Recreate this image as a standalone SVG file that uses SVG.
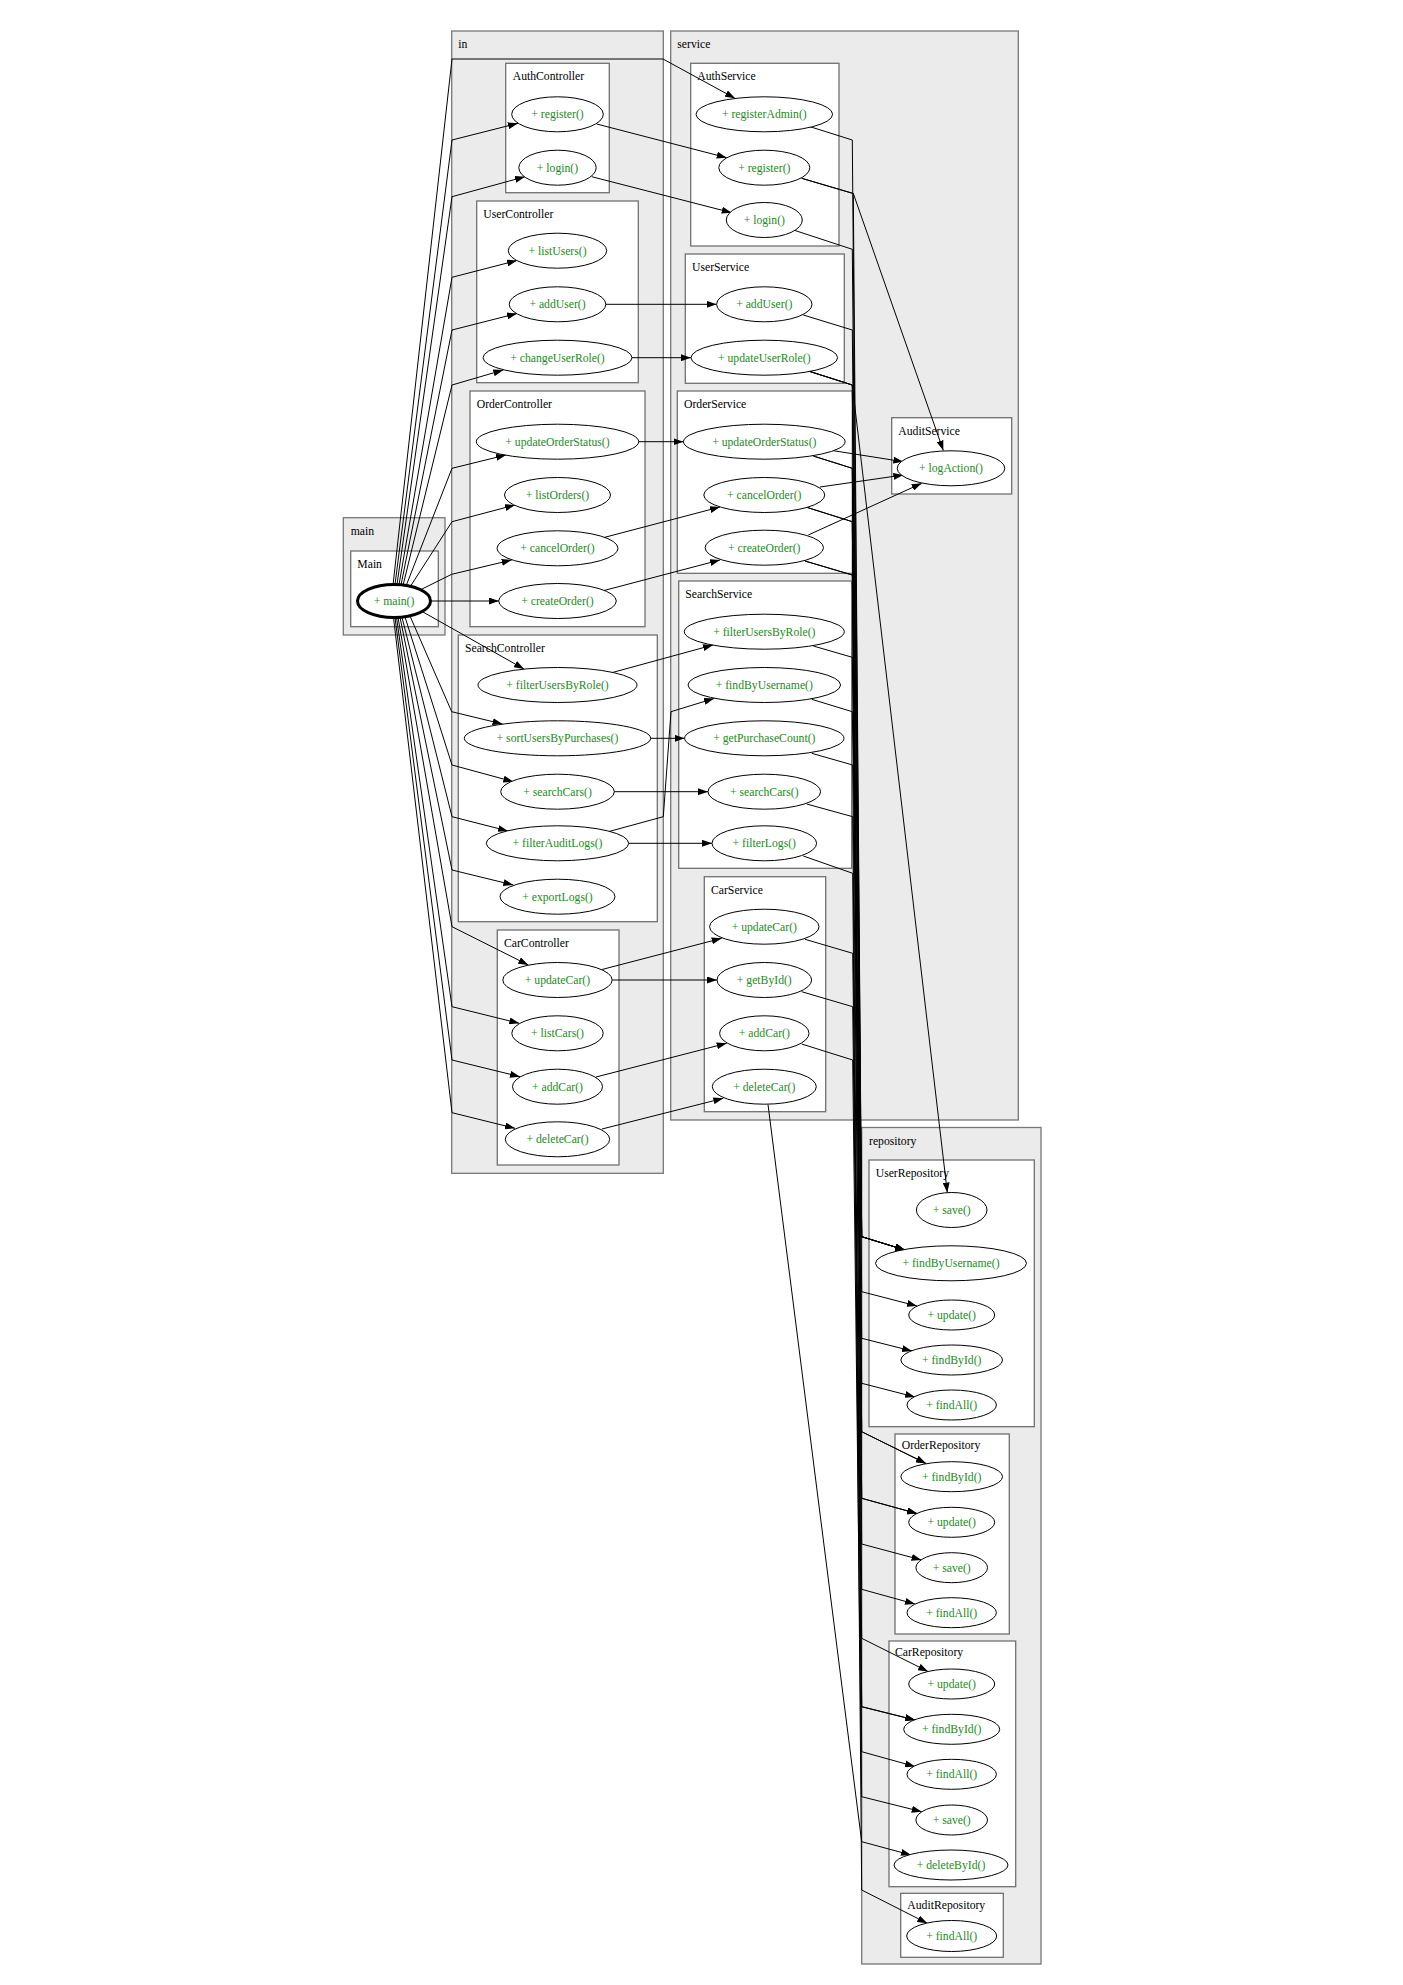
<svg xmlns="http://www.w3.org/2000/svg" width="1403" height="1985" viewBox="0 0 1403 1985">
<style>
.cl{fill:#ebebeb;stroke:#777;stroke-width:1.3}
.bx{fill:#fff;stroke:#707070;stroke-width:1.3}
.lb{font-family:"Liberation Serif","Times New Roman",serif;font-size:11.7px;fill:#000}
.m ellipse{fill:#fff;stroke:#000;stroke-width:1}
.m text{font-family:"Liberation Serif","Times New Roman",serif;font-size:11.7px;fill:#228b22;text-anchor:middle}
.e{fill:none;stroke:#000;stroke-width:1;marker-end:url(#ah)}
.e2{fill:none;stroke:#000;stroke-width:1}
</style>
<defs>
<marker id="ah" markerUnits="userSpaceOnUse" markerWidth="10" markerHeight="7" refX="10" refY="3.5" orient="auto">
<path d="M0,0 L10,3.5 L0,7 z" fill="#000"/>
</marker>
</defs>
<rect width="1403" height="1985" fill="#fff"/>
<g id="clusters">
<g id="cluster_in"><rect class="cl" x="451.7" y="31" width="211.6" height="1142.3"/><text class="lb" x="458.3" y="48">in</text></g>
<g id="cluster_service"><rect class="cl" x="670.7" y="31" width="347.6" height="1089"/><text class="lb" x="677.3" y="48">service</text></g>
<g id="cluster_main"><rect class="cl" x="343.3" y="517.7" width="101.7" height="117.3"/><text class="lb" x="350.7" y="535">main</text></g>
<g id="cluster_repository"><rect class="cl" x="861.7" y="1127.5" width="179.3" height="836.5"/><text class="lb" x="869" y="1144.5">repository</text></g>
<g id="AuthController"><rect class="bx" x="505.7" y="63.3" width="103.6" height="129.4"/><text class="lb" x="512.7" y="80">AuthController</text></g>
<g id="UserController"><rect class="bx" x="476.7" y="201" width="161.6" height="181.7"/><text class="lb" x="483.3" y="218">UserController</text></g>
<g id="OrderController"><rect class="bx" x="470" y="391" width="175" height="235.7"/><text class="lb" x="476.7" y="408">OrderController</text></g>
<g id="SearchController"><rect class="bx" x="458.3" y="635" width="199" height="286.7"/><text class="lb" x="465" y="652">SearchController</text></g>
<g id="CarController"><rect class="bx" x="497.3" y="930" width="121.7" height="235"/><text class="lb" x="504" y="947">CarController</text></g>
<g id="Main"><rect class="bx" x="350.7" y="551" width="87.6" height="75.7"/><text class="lb" x="357.3" y="568">Main</text></g>
<g id="AuthService"><rect class="bx" x="690.7" y="63.3" width="148.3" height="182.7"/><text class="lb" x="697.3" y="80">AuthService</text></g>
<g id="UserService"><rect class="bx" x="685.3" y="254" width="159" height="129.3"/><text class="lb" x="692" y="271">UserService</text></g>
<g id="OrderService"><rect class="bx" x="677.3" y="391" width="175" height="182.3"/><text class="lb" x="684" y="408">OrderService</text></g>
<g id="SearchService"><rect class="bx" x="678.7" y="581" width="173" height="287.3"/><text class="lb" x="685.3" y="598">SearchService</text></g>
<g id="CarService"><rect class="bx" x="704.3" y="876.7" width="121.4" height="235"/><text class="lb" x="711" y="893.7">CarService</text></g>
<g id="AuditService"><rect class="bx" x="891.7" y="417.7" width="120" height="76.3"/><text class="lb" x="898.3" y="434.7">AuditService</text></g>
<g id="UserRepository"><rect class="bx" x="869" y="1160" width="165.3" height="266.7"/><text class="lb" x="875.7" y="1177">UserRepository</text></g>
<g id="OrderRepository"><rect class="bx" x="895" y="1434" width="114.3" height="200"/><text class="lb" x="901.7" y="1449">OrderRepository</text></g>
<g id="CarRepository"><rect class="bx" x="889" y="1641" width="126.7" height="245.7"/><text class="lb" x="895" y="1656">CarRepository</text></g>
<g id="AuditRepository"><rect class="bx" x="900.7" y="1893.3" width="102.6" height="64"/><text class="lb" x="907.3" y="1909">AuditRepository</text></g>
</g>
<g id="edges">
<path class="e" d="M393,585 L452,59 L663,59 L735,98.3"/>
<path class="e" d="M395,584.5 L452,140 L518,123.3"/>
<path class="e" d="M397,584.5 L452,196.7 L525,176.7"/>
<path class="e" d="M399,584.7 L452,277.3 L517,260.5"/>
<path class="e" d="M401,585 L452,330 L517,313.5"/>
<path class="e" d="M403,585.5 L452,385 L503.3,370"/>
<path class="e" d="M406,586 L452,468.3 L506,455"/>
<path class="e" d="M410,587 L452,521.7 L515,505"/>
<path class="e" d="M420,590 L451.7,574.3 L511.7,560"/>
<path class="e" d="M431.5,601 L498.9,601"/>
<path class="e" d="M423,612 L524,669"/>
<path class="e" d="M410,616 L451.7,711.7 L502.5,724"/>
<path class="e" d="M405,617 L452,765 L513.3,781.7"/>
<path class="e" d="M402,617.3 L452,816.7 L508,831"/>
<path class="e" d="M400,617.4 L452,870 L513.3,885"/>
<path class="e" d="M398,617.5 L452,926.7 L528.3,965"/>
<path class="e" d="M396.5,617.5 L452,1006.7 L519.3,1023.3"/>
<path class="e" d="M395,617.5 L452,1060 L520,1076.7"/>
<path class="e" d="M393.5,617.5 L452,1112.7 L515,1128.3"/>
<path class="e" d="M596.7,124 L726.7,157.7"/>
<path class="e" d="M591.7,176.7 L731.7,212.7"/>
<path class="e" d="M606,304.3 L716.6,304.3"/>
<path class="e" d="M631.8,357.7 L691,357.7"/>
<path class="e" d="M638.9,441.7 L683.5,441.7"/>
<path class="e" d="M604,537.5 L720,507"/>
<path class="e" d="M604,590.5 L720,560"/>
<path class="e" d="M611.7,672.7 L713,645"/>
<path class="e" d="M650.5,738.3 L684.6,738.3"/>
<path class="e" d="M609,831.5 L663.3,816.7 L671,711.7 L714,698.5"/>
<path class="e" d="M614.1,791.7 L708,791.7"/>
<path class="e" d="M628.9,843.3 L712,843.3"/>
<path class="e" d="M602,969.5 L721.7,938.3"/>
<path class="e" d="M612.4,980 L717,980"/>
<path class="e" d="M596,1077 L726.7,1043.3"/>
<path class="e" d="M602,1129 L723.3,1098.3"/>
<path class="e" d="M833.3,450.7 L903.3,461.7"/>
<path class="e" d="M820,487 L903.3,475"/>
<path class="e" d="M808.3,535 L921.7,483.3"/>
<path class="e" d="M801.7,178.3 L853.3,193.5 L943.3,450.5"/>
<path class="e" d="M810,126.7 L852.3,140 L861.7,1236.7 L905,1250"/>
<path class="e" d="M801.7,178.3 L853.3,193.5 L861.7,1236.7 L905,1250"/>
<path class="e" d="M795,230.5 L852.3,249.3 L861.7,1236.7 L905,1250"/>
<path class="e" d="M803.3,315 L852.3,330 L861.7,1236.7 L905,1250"/>
<path class="e" d="M808.3,371 L852.3,385 L947.3,1192.5"/>
<path class="e" d="M808.3,371 L852.3,385 L861.7,1291.7 L917,1306"/>
<path class="e" d="M808.3,371 L852.3,385 L861.7,1338.3 L912,1351"/>
<path class="e" d="M813.3,646 L852.3,657.3 L861.7,1383.3 L915,1397"/>
<path class="e" d="M811.7,699.3 L852.3,711.7 L861.7,1236.7 L905,1250"/>
<path class="e" d="M813.3,456 L852.3,468.3 L861.7,1431.7 L926,1463.5"/>
<path class="e" d="M813.3,456 L852.3,468.3 L861.7,1498.3 L917,1513.5"/>
<path class="e" d="M806.7,507.3 L852.3,521.7 L861.7,1431.7 L926,1463.5"/>
<path class="e" d="M806.7,507.3 L852.3,521.7 L861.7,1498.3 L917,1513.5"/>
<path class="e" d="M805,561 L852.3,575 L861.7,1544 L921.5,1560"/>
<path class="e" d="M805,561 L852.3,575 L861.7,1706.7 L915,1720"/>
<path class="e" d="M811.7,753.3 L852.7,765 L861.7,1589.3 L915,1604"/>
<path class="e" d="M806.7,804 L852.7,816.7 L861.7,1751.7 L915,1766.5"/>
<path class="e" d="M803.3,856 L852.7,873.3 L861.7,1890 L927.3,1923.3"/>
<path class="e" d="M805,939.3 L852.7,953.3 L861.7,1638.3 L928,1671.5"/>
<path class="e" d="M801.7,991.7 L852.7,1006.7 L861.7,1706.7 L915,1720"/>
<path class="e" d="M801.7,1044 L852.7,1060 L861.7,1796.7 L921.7,1811.7"/>
<path class="e" d="M768,1104.5 L861.7,1841.7 L911,1855"/>
</g>
<g id="nodes">
<g id="main_main" class="m"><ellipse cx="394" cy="601" rx="36.5" ry="16.5" style="stroke-width:3"/><text x="394" y="605">+ main()</text></g>
<g id="ac_register" class="m"><ellipse cx="557.5" cy="114.3" rx="45.8" ry="17.5"/><text x="557.5" y="118.3">+ register()</text></g>
<g id="ac_login" class="m"><ellipse cx="557.5" cy="167.7" rx="38.7" ry="17.5"/><text x="557.5" y="171.7">+ login()</text></g>
<g id="uc_listUsers" class="m"><ellipse cx="557.5" cy="250.7" rx="49.2" ry="17.5"/><text x="557.5" y="254.7">+ listUsers()</text></g>
<g id="uc_addUser" class="m"><ellipse cx="557.5" cy="304.3" rx="48.3" ry="17.5"/><text x="557.5" y="308.3">+ addUser()</text></g>
<g id="uc_changeUserRole" class="m"><ellipse cx="557.5" cy="357.7" rx="74.5" ry="17.5"/><text x="557.5" y="361.7">+ changeUserRole()</text></g>
<g id="oc_updateOrderStatus" class="m"><ellipse cx="557.5" cy="441.7" rx="81.2" ry="17.5"/><text x="557.5" y="445.7">+ updateOrderStatus()</text></g>
<g id="oc_listOrders" class="m"><ellipse cx="557.5" cy="495" rx="53" ry="17.5"/><text x="557.5" y="499">+ listOrders()</text></g>
<g id="oc_cancelOrder" class="m"><ellipse cx="557.5" cy="548.3" rx="60.5" ry="17.5"/><text x="557.5" y="552.3">+ cancelOrder()</text></g>
<g id="oc_createOrder" class="m"><ellipse cx="557.5" cy="601" rx="58.8" ry="17.5"/><text x="557.5" y="605">+ createOrder()</text></g>
<g id="sc_filterUsersByRole" class="m"><ellipse cx="557.5" cy="685" rx="79.5" ry="17.5"/><text x="557.5" y="689">+ filterUsersByRole()</text></g>
<g id="sc_sortUsersByPurchases" class="m"><ellipse cx="557.5" cy="738.3" rx="93.2" ry="17.5"/><text x="557.5" y="742.3">+ sortUsersByPurchases()</text></g>
<g id="sc_searchCars" class="m"><ellipse cx="557.5" cy="791.7" rx="56.8" ry="17.5"/><text x="557.5" y="795.7">+ searchCars()</text></g>
<g id="sc_filterAuditLogs" class="m"><ellipse cx="557.5" cy="843.3" rx="71.2" ry="17.5"/><text x="557.5" y="847.3">+ filterAuditLogs()</text></g>
<g id="sc_exportLogs" class="m"><ellipse cx="557.5" cy="896.7" rx="57.5" ry="17.5"/><text x="557.5" y="900.7">+ exportLogs()</text></g>
<g id="cc_updateCar" class="m"><ellipse cx="557.5" cy="980" rx="54.7" ry="17.5"/><text x="557.5" y="984">+ updateCar()</text></g>
<g id="cc_listCars" class="m"><ellipse cx="557.5" cy="1033.3" rx="45.7" ry="17.5"/><text x="557.5" y="1037.3">+ listCars()</text></g>
<g id="cc_addCar" class="m"><ellipse cx="557.5" cy="1086.7" rx="45" ry="17.5"/><text x="557.5" y="1090.7">+ addCar()</text></g>
<g id="cc_deleteCar" class="m"><ellipse cx="557.5" cy="1139.3" rx="52.2" ry="17.5"/><text x="557.5" y="1143.3">+ deleteCar()</text></g>
<g id="as_registerAdmin" class="m"><ellipse cx="764.3" cy="114.3" rx="68.3" ry="17.5"/><text x="764.3" y="118.3">+ registerAdmin()</text></g>
<g id="as_register" class="m"><ellipse cx="764.3" cy="167.7" rx="45.5" ry="17.5"/><text x="764.3" y="171.7">+ register()</text></g>
<g id="as_login" class="m"><ellipse cx="764.3" cy="220" rx="38" ry="17.5"/><text x="764.3" y="224">+ login()</text></g>
<g id="us_addUser" class="m"><ellipse cx="764.3" cy="304.3" rx="47.7" ry="17.5"/><text x="764.3" y="308.3">+ addUser()</text></g>
<g id="us_updateUserRole" class="m"><ellipse cx="764.3" cy="357.7" rx="73.3" ry="17.5"/><text x="764.3" y="361.7">+ updateUserRole()</text></g>
<g id="os_updateOrderStatus" class="m"><ellipse cx="764.3" cy="441.7" rx="80.8" ry="17.5"/><text x="764.3" y="445.7">+ updateOrderStatus()</text></g>
<g id="os_cancelOrder" class="m"><ellipse cx="764.3" cy="495" rx="60.5" ry="17.5"/><text x="764.3" y="499">+ cancelOrder()</text></g>
<g id="os_createOrder" class="m"><ellipse cx="764.3" cy="547.7" rx="59.2" ry="17.5"/><text x="764.3" y="551.7">+ createOrder()</text></g>
<g id="ss_filterUsersByRole" class="m"><ellipse cx="764.3" cy="631.7" rx="80" ry="17.5"/><text x="764.3" y="635.7">+ filterUsersByRole()</text></g>
<g id="ss_findByUsername" class="m"><ellipse cx="764.3" cy="685" rx="76.3" ry="17.5"/><text x="764.3" y="689">+ findByUsername()</text></g>
<g id="ss_getPurchaseCount" class="m"><ellipse cx="764.3" cy="738.3" rx="79.7" ry="17.5"/><text x="764.3" y="742.3">+ getPurchaseCount()</text></g>
<g id="ss_searchCars" class="m"><ellipse cx="764.3" cy="791.7" rx="56.3" ry="17.5"/><text x="764.3" y="795.7">+ searchCars()</text></g>
<g id="ss_filterLogs" class="m"><ellipse cx="764.3" cy="843.3" rx="52.3" ry="17.5"/><text x="764.3" y="847.3">+ filterLogs()</text></g>
<g id="cs_updateCar" class="m"><ellipse cx="764.3" cy="926.7" rx="54.7" ry="17.5"/><text x="764.3" y="930.7">+ updateCar()</text></g>
<g id="cs_getById" class="m"><ellipse cx="764.3" cy="980" rx="47.3" ry="17.5"/><text x="764.3" y="984">+ getById()</text></g>
<g id="cs_addCar" class="m"><ellipse cx="764.3" cy="1033.3" rx="44.7" ry="17.5"/><text x="764.3" y="1037.3">+ addCar()</text></g>
<g id="cs_deleteCar" class="m"><ellipse cx="764.3" cy="1086.7" rx="52" ry="17.5"/><text x="764.3" y="1090.7">+ deleteCar()</text></g>
<g id="au_logAction" class="m"><ellipse cx="951" cy="468.3" rx="53.8" ry="17.5"/><text x="951" y="472.3">+ logAction()</text></g>
<g id="ur_save" class="m"><ellipse cx="951.7" cy="1210" rx="35.3" ry="17.5"/><text x="951.7" y="1214">+ save()</text></g>
<g id="ur_findByUsername" class="m"><ellipse cx="951" cy="1263.3" rx="75.5" ry="17.5"/><text x="951" y="1267.3">+ findByUsername()</text></g>
<g id="ur_update" class="m"><ellipse cx="951.7" cy="1315" rx="43" ry="15"/><text x="951.7" y="1319">+ update()</text></g>
<g id="ur_findById" class="m"><ellipse cx="951.7" cy="1360" rx="50.8" ry="15"/><text x="951.7" y="1364">+ findById()</text></g>
<g id="ur_findAll" class="m"><ellipse cx="951.7" cy="1405" rx="44.7" ry="15"/><text x="951.7" y="1409">+ findAll()</text></g>
<g id="or_findById" class="m"><ellipse cx="951.7" cy="1476.7" rx="50.8" ry="15"/><text x="951.7" y="1480.7">+ findById()</text></g>
<g id="or_update" class="m"><ellipse cx="951.7" cy="1522.3" rx="43" ry="15"/><text x="951.7" y="1526.3">+ update()</text></g>
<g id="or_save" class="m"><ellipse cx="951.7" cy="1567.7" rx="35.8" ry="15"/><text x="951.7" y="1571.7">+ save()</text></g>
<g id="or_findAll" class="m"><ellipse cx="951.7" cy="1612.7" rx="44.7" ry="15"/><text x="951.7" y="1616.7">+ findAll()</text></g>
<g id="cr_update" class="m"><ellipse cx="951.7" cy="1684" rx="43" ry="15"/><text x="951.7" y="1688">+ update()</text></g>
<g id="cr_findById" class="m"><ellipse cx="951.7" cy="1729.3" rx="48" ry="15"/><text x="951.7" y="1733.3">+ findById()</text></g>
<g id="cr_findAll" class="m"><ellipse cx="951.7" cy="1774.3" rx="44.7" ry="15"/><text x="951.7" y="1778.3">+ findAll()</text></g>
<g id="cr_save" class="m"><ellipse cx="951.7" cy="1820" rx="35.8" ry="15"/><text x="951.7" y="1824">+ save()</text></g>
<g id="cr_deleteById" class="m"><ellipse cx="951" cy="1865" rx="57" ry="15"/><text x="951" y="1869">+ deleteById()</text></g>
<g id="ar_findAll" class="m"><ellipse cx="951.7" cy="1936" rx="45" ry="15.5"/><text x="951.7" y="1940">+ findAll()</text></g>
</g>
</svg>
